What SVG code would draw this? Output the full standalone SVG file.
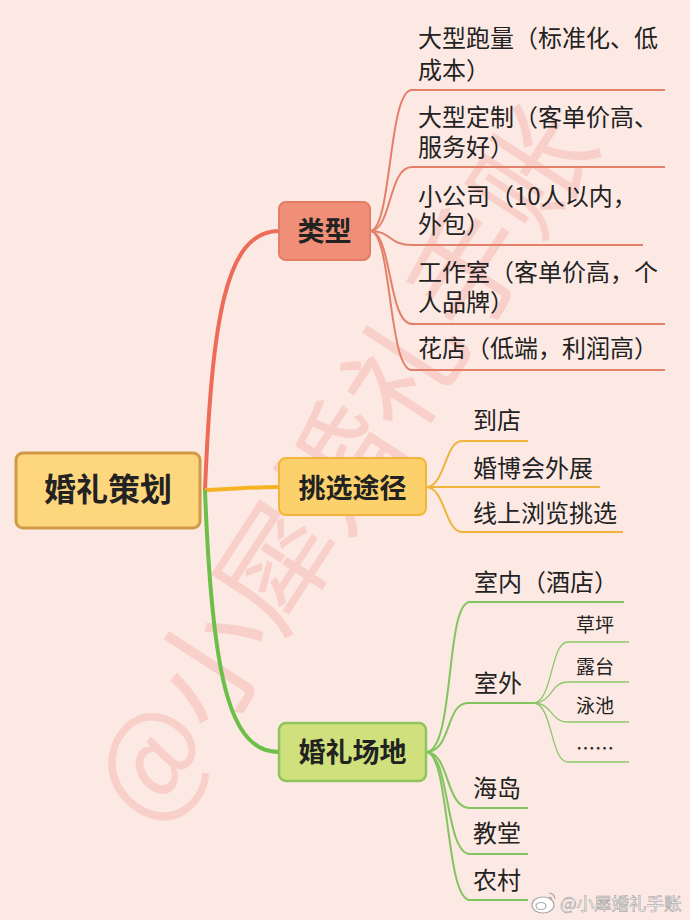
<svg xmlns="http://www.w3.org/2000/svg" width="690" height="920" viewBox="0 0 690 920">
<style>
text{font-family:"Noto Sans CJK SC","Noto Sans",sans-serif;fill:#222}
.leaf{font-size:24px}
.sub{font-size:19px}
.node{font-weight:bold;text-anchor:middle}
.red{fill:none;stroke:#e4806a;stroke-width:2}
.org{fill:none;stroke:#efb43c;stroke-width:2}
.grn{fill:none;stroke:#82c45e;stroke-width:2}
.grn2{fill:none;stroke:#8cc86a;stroke-width:1.3}
.wm{font-size:118px;fill:#f5b8b0;opacity:0.5;font-weight:400}
</style>
<rect x="0" y="0" width="690" height="920" fill="#fde9e4"/>
<text class="wm" transform="translate(335,460) rotate(-57)" text-anchor="middle" dominant-baseline="central">@小犀婚礼手账</text>
<g id="connectors">
<path d="M205,490 C212,320 225,231 279,231" fill="none" stroke="#ee6b58" stroke-width="4"/>
<path d="M205,490 C240,489 250,487 279,487" fill="none" stroke="#f5b324" stroke-width="4"/>
<path d="M205,490 C212,680 230,752 279,752" fill="none" stroke="#6cc04a" stroke-width="4"/>
<path class="red" d="M370,231 C392,231 388,90 412,90 H665"/>
<path class="red" d="M370,231 C392,231 388,167 412,167 H665"/>
<path class="red" d="M370,231 C392,231 388,245 412,245 H643"/>
<path class="red" d="M370,231 C392,231 388,324 412,324 H665"/>
<path class="red" d="M370,231 C392,231 388,370 412,370 H665"/>
<path class="org" d="M426,487 C445,487 445,441 462,441 H528"/>
<path class="org" d="M426,487 H600"/>
<path class="org" d="M426,487 C445,487 445,532 462,532 H623"/>
<path class="grn" d="M426,752 C455,752 445,602 470,602 H624"/>
<path class="grn" d="M426,752 C452,752 445,703 468,703 H533"/>
<path class="grn" d="M426,752 C450,752 445,808 470,808 H528"/>
<path class="grn" d="M426,752 C450,752 445,854 470,854 H528"/>
<path class="grn" d="M426,752 C450,752 445,900 470,900 H528"/>
<path class="grn2" d="M533,703 C553,703 550,642 568,642 H629"/>
<path class="grn2" d="M533,703 C553,703 550,682 568,682 H629"/>
<path class="grn2" d="M533,703 C553,703 550,722 568,722 H629"/>
<path class="grn2" d="M533,703 C553,703 550,762 568,762 H629"/>
</g>
<g id="root">
<rect x="16" y="453" width="184" height="75" rx="7" fill="#fdd67e" stroke="#d09a45" stroke-width="3"/>
<text class="node" x="108" y="501" font-size="32">婚礼策划</text>
</g>
<g id="leixing">
<rect x="279" y="202" width="91" height="58" rx="7" fill="#ef8f77" stroke="#e57c64" stroke-width="2"/>
<text class="node" x="324.5" y="241" font-size="27">类型</text>
</g>
<g id="tiaoxuan">
<rect x="279" y="458" width="147" height="57" rx="7" fill="#fcd16b" stroke="#f3b43b" stroke-width="2"/>
<text class="node" x="352.5" y="498" font-size="27">挑选途径</text>
</g>
<g id="changdi">
<rect x="279" y="723" width="147" height="58" rx="7" fill="#cfe07c" stroke="#8cc55f" stroke-width="2.5"/>
<text class="node" x="352.5" y="762" font-size="27">婚礼场地</text>
</g>
<g id="t1"><text class="leaf" x="418" y="47">大型跑量（标准化、低<tspan x="418" y="79">成本）</tspan></text></g>
<g id="t2"><text class="leaf" x="418" y="126">大型定制（客单价高、<tspan x="418" y="156">服务好）</tspan></text></g>
<g id="t3"><text class="leaf" x="418" y="205">小公司（10人以内，<tspan x="418" y="233">外包）</tspan></text></g>
<g id="t4"><text class="leaf" x="418" y="281">工作室（客单价高，个<tspan x="418" y="311">人品牌）</tspan></text></g>
<g id="t5"><text class="leaf" x="418" y="357">花店（低端，利润高）</text></g>
<g id="s1"><text class="leaf" x="473" y="429">到店</text></g>
<g id="s2"><text class="leaf" x="473" y="477">婚博会外展</text></g>
<g id="s3"><text class="leaf" x="473" y="522">线上浏览挑选</text></g>
<g id="c1"><text class="leaf" x="474" y="591">室内（酒店）</text></g>
<g id="c2"><text class="leaf" x="474" y="692">室外</text></g>
<g id="c21"><text class="sub" x="576" y="632">草坪</text></g>
<g id="c22"><text class="sub" x="576" y="674">露台</text></g>
<g id="c23"><text class="sub" x="576" y="713">泳池</text></g>
<g id="c24"><text class="sub" x="576" y="756">……</text></g>
<g id="c3"><text class="leaf" x="473" y="797">海岛</text></g>
<g id="c4"><text class="leaf" x="473" y="842">教堂</text></g>
<g id="c5"><text class="leaf" x="473" y="889">农村</text></g>
<g id="weibo" fill="none" stroke="#a8a8a8" stroke-width="1.2">
<ellipse cx="543" cy="905" rx="11" ry="8" fill="#ffffff"/>
<ellipse cx="541" cy="906" rx="5" ry="3.5"/>
<path d="M549,893 a6,6 0 0 1 6,6 M549,897 a2.5,2.5 0 0 1 2.5,2.5"/>
</g>
<text x="560" y="910" font-size="17.5" style="fill:#ffffff;stroke:#a0a0a0;stroke-width:0.6">@小犀婚礼手账</text>
</svg>
